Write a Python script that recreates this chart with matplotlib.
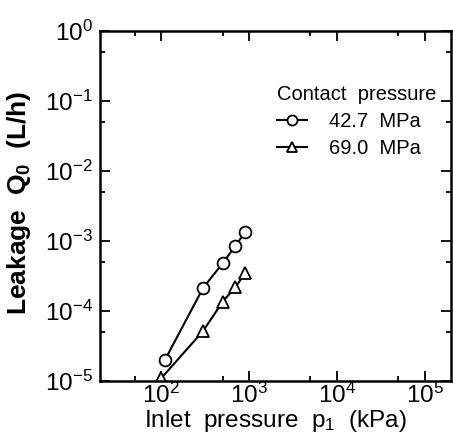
import matplotlib
matplotlib.use("Agg")
import matplotlib.pyplot as plt
from matplotlib.ticker import FixedLocator, FuncFormatter
import numpy as np

plt.rcParams['font.family'] = ['Liberation Sans', 'DejaVu Sans']
plt.rcParams['mathtext.default'] = 'regular'

# inlet pressure (kPa) and leakage (L/h)
p_427 = [110, 300, 500, 700, 900]
q_427 = [2.0e-5, 2.15e-4, 4.8e-4, 8.6e-4, 1.33e-3]
p_690 = [100, 300, 500, 700, 900]
q_690 = [1.1e-5, 5.2e-5, 1.36e-4, 2.2e-4, 3.45e-4]
labels = ["42.7  MPa", "69.0  MPa"]

fig = plt.figure(figsize=(4.53, 4.40), dpi=100)
ax = fig.add_axes([100/453, 59/440, 351/453, 350/440])

ax.plot(p_427, q_427, '-o', color='black', mfc='white', mec='black',
        ms=8.5, mew=1.3, lw=1.5, label=labels[0])
ax.plot(p_690, q_690, '-^', color='black', mfc='white', mec='black',
        ms=9, mew=1.3, lw=1.5, label=labels[1])

ax.set_xscale('log')
ax.set_yscale('log')
ax.set_xlim(20, 2e5)
ax.set_ylim(1e-5, 1)

fmt = FuncFormatter(lambda v, pos: r'$10^{%d}$' % int(round(np.log10(v))))
ax.xaxis.set_major_locator(FixedLocator([1e2, 1e3, 1e4, 1e5]))
ax.xaxis.set_minor_locator(FixedLocator([50, 5e2, 5e3, 5e4]))
ax.yaxis.set_major_locator(FixedLocator([10.0**k for k in range(-5, 1)]))
ax.yaxis.set_minor_locator(FixedLocator([5 * 10.0**k for k in range(-5, 0)]))
ax.xaxis.set_major_formatter(fmt)
ax.yaxis.set_major_formatter(fmt)
ax.xaxis.set_minor_formatter(FuncFormatter(lambda v, pos: ''))
ax.yaxis.set_minor_formatter(FuncFormatter(lambda v, pos: ''))

ax.tick_params(which='both', direction='in', top=True, right=True,
               labelsize=17.5, width=1.3)
ax.tick_params(which='major', length=7.5)
ax.tick_params(which='minor', length=3.5)
ax.tick_params(axis='x', which='major', pad=1.5)
ax.tick_params(axis='y', which='major', pad=5)
for s in ax.spines.values():
    s.set_linewidth(1.8)

ax.set_xlabel('Inlet  pressure  p$_1$  (kPa)', fontsize=17.5, labelpad=0)
ax.set_ylabel('Leakage  Q$_0$  (L/h)', fontsize=19, fontweight='bold')
ax.yaxis.set_label_coords(-0.19, 0.51)

leg = ax.legend(title='Contact  pressure', frameon=False, fontsize=14.5,
                title_fontsize=14.5, loc='upper left',
                bbox_to_anchor=(0.475, 0.875), handlelength=1.5,
                handletextpad=1.1, labelspacing=0.4, alignment='left',
                borderpad=0, markerscale=0.85)

fig.savefig('out.png', dpi=100)
